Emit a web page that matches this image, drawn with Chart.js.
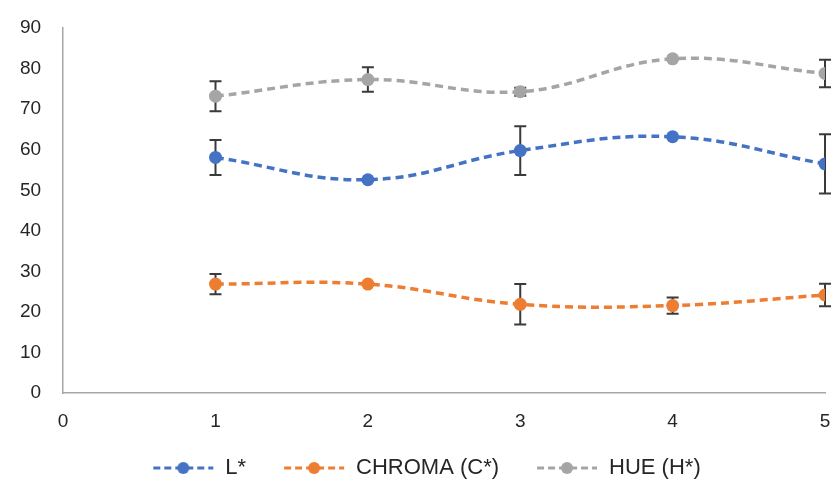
<!DOCTYPE html>
<html>
<head>
<meta charset="utf-8">
<script src="https://cdn.jsdelivr.net/npm/chart.js@4"></script>
<style>
  html, body { margin: 0; padding: 0; background: #fff; }
  #wrap { width: 835px; height: 486px; }
</style>
</head>
<body>
<div id="wrap"><canvas id="chart"></canvas></div>
<script>
const xValues = [1, 2, 3, 4, 5]
const lValues = [58.1, 52.6, 59.8, 63.2, 56.5]
const lErrors = [4.3, 0, 6.0, 0, 7.3]
const chromaValues = [26.9, 26.9, 21.9, 21.6, 24.2]
const chromaErrors = [2.5, 0, 5.0, 2.0, 2.8]
const hueValues = [73.2, 77.3, 74.3, 82.4, 78.8]
const hueErrors = [3.7, 3.0, 1.0, 0, 3.4]
const xTicks = [0, 1, 2, 3, 4, 5]
const yTicks = [0, 10, 20, 30, 40, 50, 60, 70, 80, 90]

const seriesNames = ['L*', 'CHROMA (C*)', 'HUE (H*)']
const seriesColors = ['#4472C4', '#ED7D31', '#A5A5A5']

function toPoints(values) {
  return values.map((v, i) => ({ x: xValues[i], y: v }))
}

// "--●--" swatch for the legend, with some blank room on its left
const SWATCH_GAP = 30
function legendSwatch(color) {
  const c = document.createElement('canvas')
  c.width = 62 + SWATCH_GAP
  c.height = 14
  const ctx = c.getContext('2d')
  ctx.translate(SWATCH_GAP, 0)
  ctx.strokeStyle = color
  ctx.lineWidth = 3
  ctx.setLineDash([7, 4])
  ctx.beginPath()
  ctx.moveTo(1, 7)
  ctx.lineTo(61, 7)
  ctx.stroke()
  ctx.fillStyle = color
  ctx.beginPath()
  ctx.arc(31, 7, 6, 0, Math.PI * 2)
  ctx.fill()
  return c
}

const errorBars = {
  id: 'errorBars',
  beforeDatasetsDraw(chart) {
    const ctx = chart.ctx
    const xs = chart.scales.x
    const ys = chart.scales.y
    ctx.save()
    ctx.strokeStyle = '#3a3a3a'
    ctx.lineWidth = 2
    chart.data.datasets.forEach((ds) => {
      ds.data.forEach((p, i) => {
        const e = ds.errors[i]
        if (!e) return
        const px = xs.getPixelForValue(p.x)
        const top = ys.getPixelForValue(p.y + e)
        const bot = ys.getPixelForValue(p.y - e)
        ctx.beginPath()
        ctx.moveTo(px, top)
        ctx.lineTo(px, bot)
        ctx.moveTo(px - 6, top)
        ctx.lineTo(px + 6, top)
        ctx.moveTo(px - 6, bot)
        ctx.lineTo(px + 6, bot)
        ctx.stroke()
      })
    })
    ctx.restore()
  }
}

function makeDataset(i, values, errors) {
  return {
    label: seriesNames[i],
    data: toPoints(values),
    errors: errors,
    borderColor: seriesColors[i],
    backgroundColor: seriesColors[i],
    borderWidth: 3.5,
    borderDash: [8, 5],
    tension: 0.4,
    pointRadius: 6.5,
    pointBorderWidth: 0,
    pointHoverRadius: 6.5,
    swatch: legendSwatch(seriesColors[i])
  }
}

// let the layout padding alone decide the plot edges
function noEdgePadding(scale) {
  scale.paddingTop = 0
  scale.paddingBottom = 0
  scale.paddingLeft = 0
  scale.paddingRight = 0
}

Chart.defaults.font.family = '"Liberation Sans", Arial, sans-serif'
Chart.defaults.color = '#262626'

new Chart(document.getElementById('chart'), {
  type: 'line',
  data: {
    datasets: [
      makeDataset(0, lValues, lErrors),
      makeDataset(1, chromaValues, chromaErrors),
      makeDataset(2, hueValues, hueErrors)
    ]
  },
  plugins: [errorBars],
  options: {
    responsive: true,
    maintainAspectRatio: false,
    animation: false,
    events: [],
    layout: { padding: { left: -2, right: 10, top: 28, bottom: -3 } },
    scales: {
      x: {
        type: 'linear',
        min: 0,
        max: 5,
        afterBuildTicks: (axis) => { axis.ticks = xTicks.map(v => ({ value: v })) },
        afterFit: noEdgePadding,
        grid: { display: false, drawTicks: false },
        border: { color: '#A6A6A6', width: 1.5 },
        ticks: { font: { size: 19 }, padding: 17 }
      },
      y: {
        min: 0,
        max: 90,
        afterBuildTicks: (axis) => { axis.ticks = yTicks.map(v => ({ value: v })) },
        afterFit: noEdgePadding,
        grid: { display: false, drawTicks: false },
        border: { color: '#A6A6A6', width: 1.5 },
        ticks: { font: { size: 19 }, padding: 22 }
      }
    },
    plugins: {
      tooltip: { enabled: false },
      legend: {
        position: 'bottom',
        labels: {
          font: { size: 22 },
          padding: 7,
          usePointStyle: true,
          pointStyleWidth: 62 + SWATCH_GAP,
          generateLabels: (chart) => chart.data.datasets.map((ds, i) => ({
            text: ds.label,
            pointStyle: ds.swatch,
            fillStyle: ds.borderColor,
            strokeStyle: ds.borderColor,
            lineWidth: 0,
            datasetIndex: i,
            fontColor: '#262626'
          }))
        }
      }
    }
  }
})
</script>
</body>
</html>
